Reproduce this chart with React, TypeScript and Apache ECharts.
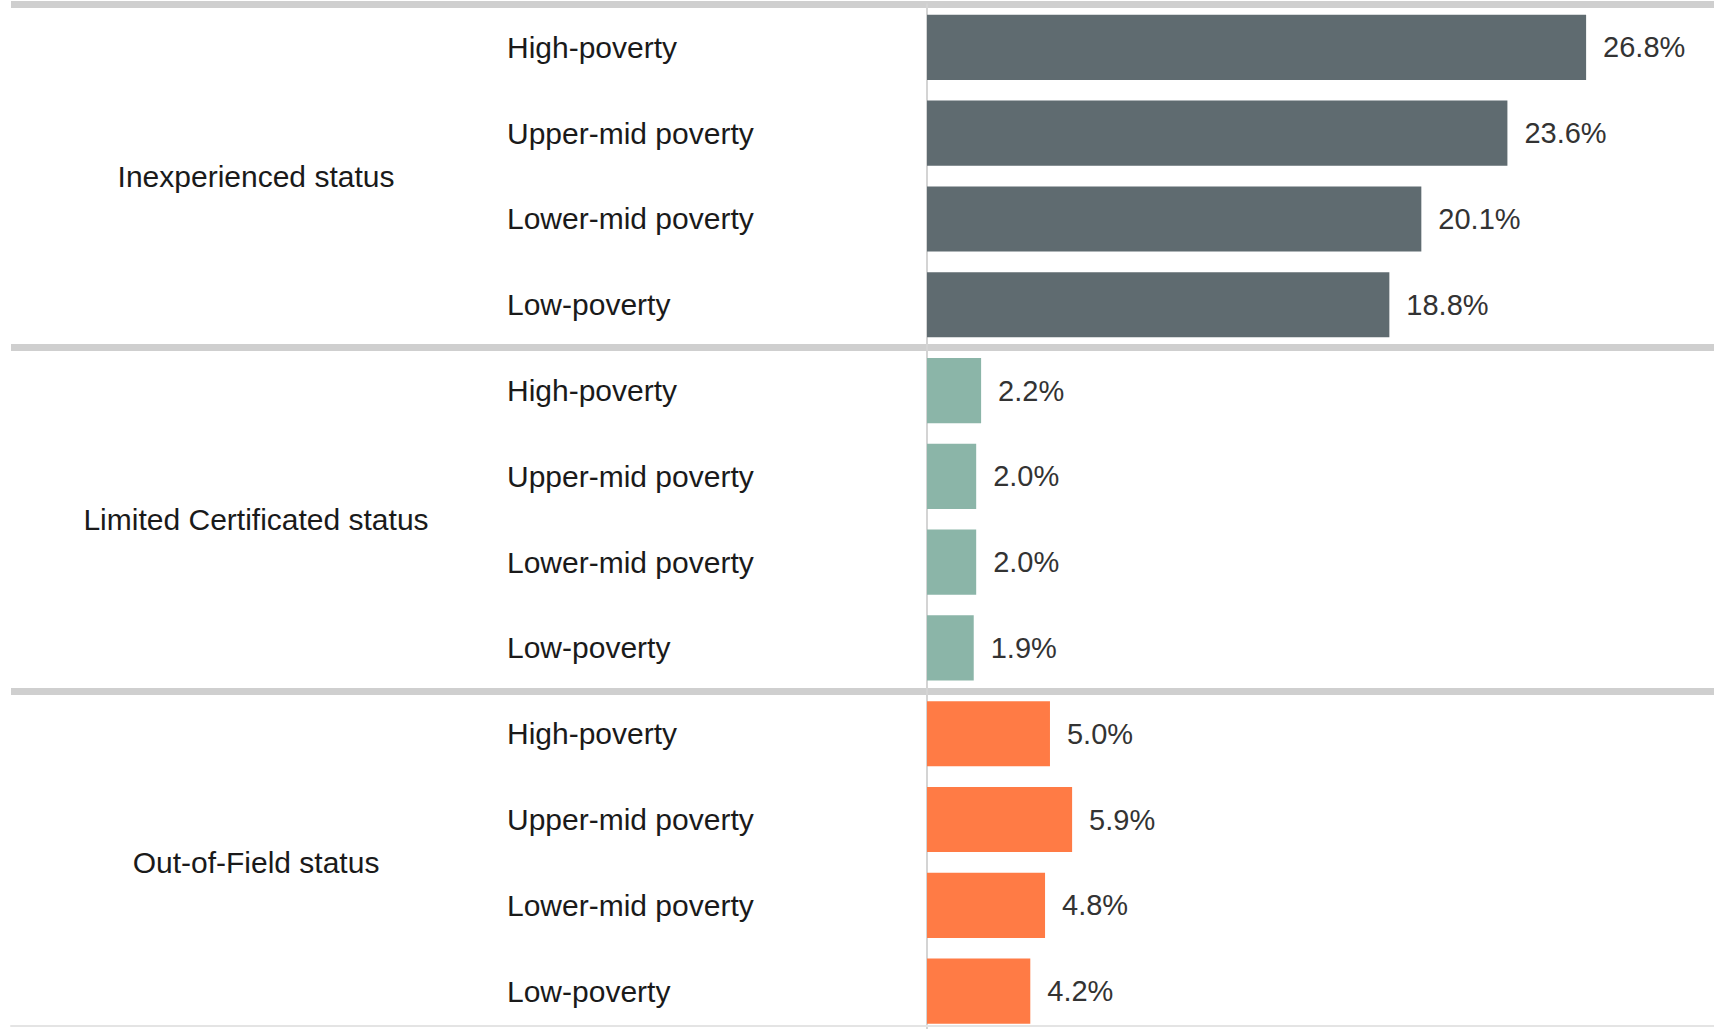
import React, { useEffect, useRef } from "react";
import * as echarts from "echarts";

const groups = ["Inexperienced status", "Limited Certificated status", "Out-of-Field status"];
const rowLabels = ["High-poverty", "Upper-mid poverty", "Lower-mid poverty", "Low-poverty"];
const inexperienced = [26.8, 23.6, 20.1, 18.8];
const limitedCertificated = [2.2, 2.0, 2.0, 1.9];
const outOfField = [5.0, 5.9, 4.8, 4.2];
const groupColors = ["#5f6b70", "#8bb5a8", "#ff7b45"];
const xMax = 32;

export default function App() {
  const ref = useRef<HTMLDivElement>(null);
  useEffect(() => {
    if (!ref.current) return;
    const chart = echarts.init(ref.current, undefined, { renderer: "svg" });
    const seriesByGroup = [inexperienced, limitedCertificated, outOfField];
    const cats: string[] = [];
    const data: any[] = [];
    seriesByGroup.forEach((vals, g) => {
      vals.forEach((v, i) => {
        cats.push(`${g}|${rowLabels[i]}`);
        data.push({ value: v, itemStyle: { color: groupColors[g] } });
      });
    });
    const font = "'Liberation Sans', Arial, sans-serif";
    const top = 4.5;
    const bottom = 0;
    chart.setOption({
      animation: false,
      backgroundColor: "#ffffff",
      grid: [
        { left: 11, right: 0, top, bottom },
        { left: 927, right: 0, top, bottom },
      ],
      xAxis: [
        {
          gridIndex: 0,
          type: "value",
          min: 0,
          max: 1,
          offset: -8,
          axisLine: { show: true, lineStyle: { color: "#e4e4e4", width: 2 } },
          axisTick: { show: false },
          axisLabel: { show: false },
          splitLine: { show: false },
        },
        {
          gridIndex: 1,
          type: "value",
          min: 0,
          max: xMax,
          show: false,
          splitLine: { show: false },
        },
      ],
      yAxis: [
        {
          gridIndex: 0,
          type: "category",
          inverse: true,
          data: groups,
          axisLine: { show: false },
          axisTick: { show: false },
          axisLabel: {
            inside: true,
            margin: 245,
            align: "center",
            fontSize: 30,
            fontFamily: font,
            color: "#1a1a1a",
            padding: [0, 0, 7, 0],
          },
          splitLine: { show: true, interval: 0, lineStyle: { color: "#cfcfcf", width: 7 } },
        },
        {
          gridIndex: 1,
          type: "category",
          inverse: true,
          data: cats,
          axisLine: { show: true, onZero: false, lineStyle: { color: "#d4d4d4", width: 2 } },
          axisTick: { show: false },
          axisLabel: {
            interval: 0,
            margin: 420,
            align: "left",
            fontSize: 30,
            fontFamily: font,
            color: "#1a1a1a",
            padding: [0, 0, 9, 0],
            formatter: (v: string) => v.split("|")[1],
          },
          splitLine: { show: false },
        },
      ],
      series: [
        {
          type: "bar",
          xAxisIndex: 1,
          yAxisIndex: 1,
          data,
          barCategoryGap: "24%",
          label: {
            show: true,
            position: "right",
            distance: 17,
            fontSize: 29,
            fontFamily: font,
            color: "#333333",
            formatter: (p: any) => `${Number(p.value).toFixed(1)}%`,
          },
        },
      ],
    });
    return () => chart.dispose();
  }, []);
  return (
    <div
      ref={ref}
      style={{ position: "fixed", left: 0, top: 0, width: 1714, height: 1034, background: "#fff" }}
    />
  );
}
